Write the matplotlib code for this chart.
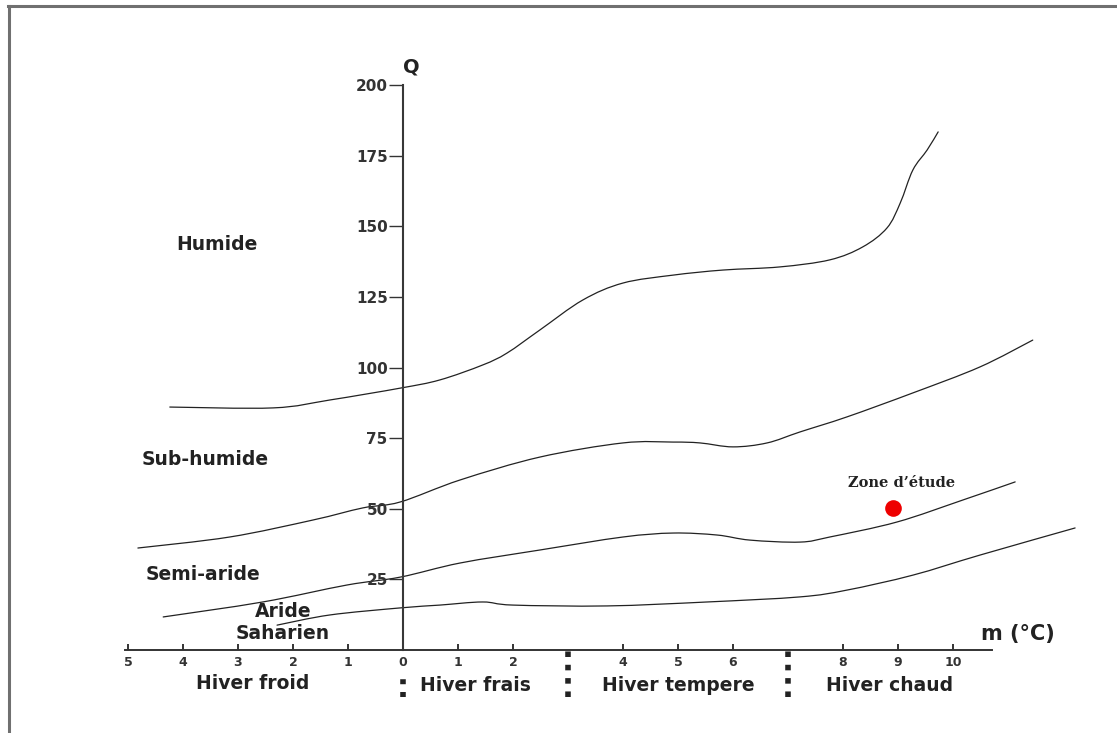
import matplotlib
matplotlib.use("Agg")
import matplotlib.pyplot as plt
from matplotlib.lines import Line2D
from matplotlib.path import Path
from matplotlib.patches import PathPatch

# ---- data (m in °C, Q) ----
c1_m = [-4.24, -2.36, -1.33, -0.05, 0.67, 1.45, 1.89, 2.49, 3.27, 4.0, 4.91, 5.82,
        6.85, 7.76, 8.36, 8.8, 9.04, 9.27, 9.53, 9.73]
c1_q = [86.0, 85.7, 88.5, 92.7, 95.6, 100.9, 105.1, 113.3, 123.9, 129.9, 132.7, 134.5,
        135.6, 138.1, 142.7, 149.4, 158.2, 169.9, 177.0, 183.4]

c2_m = [-4.82, -3.15, -1.64, -0.73, -0.05, 1.04, 2.49, 4.0, 4.91, 5.4, 6.0, 6.62,
        7.22, 8.07, 9.27, 10.49, 11.45]
c2_q = [36.1, 40.0, 46.0, 50.3, 52.4, 60.2, 68.3, 73.3, 73.6, 73.3, 71.9, 73.3,
        77.2, 82.5, 91.0, 100.2, 109.7]

c3_m = [-4.36, -2.55, -1.02, -0.05, 1.04, 2.49, 4.0, 4.91, 5.71, 6.31, 7.22, 7.76,
        8.98, 10.18, 11.13]
c3_q = [11.7, 17.0, 23.0, 25.8, 30.8, 35.4, 40.0, 41.4, 40.7, 38.9, 38.2, 40.0,
        45.3, 53.1, 59.5]

c4_m = [-2.29, -1.33, -0.05, 0.67, 1.45, 2.0, 3.71, 5.53, 7.22, 8.07, 9.27, 10.49, 12.22]
c4_q = [8.8, 12.4, 14.9, 15.9, 17.0, 15.9, 15.6, 17.0, 18.8, 21.2, 26.5, 33.6, 43.2]

study_m = [8.91]
study_q = [50.3]

y_ticks = [25, 50, 75, 100, 125, 150, 175, 200]
y_labels = ["25", "50", "75", "100", "125", "150", "175", "200"]
x_ticks = [-5, -4, -3, -2, -1, 0, 1, 2, 4, 5, 6, 8, 9, 10]
x_labels = ["5", "4", "3", "2", "1", "0", "1", "2", "4", "5", "6", "8", "9", "10"]
separators = [3, 7]

zones = ["Humide", "Sub-humide", "Semi-aride", "Aride", "Saharien"]
winters = ["Hiver froid", "Hiver frais", "Hiver tempere", "Hiver chaud"]

# ---- figure ----
W, H = 1117, 733
fig = plt.figure(figsize=(W / 100, H / 100), dpi=100)
ax = fig.add_axes([0, 0, 1, 1])
ppx = 55.0      # pixels per °C
ppy = 2.825     # pixels per unit Q
x0, y0 = 403, 650
ax.set_xlim((0 - x0) / ppx, (W - x0) / ppx)
ax.set_ylim((y0 - H) / ppy, y0 / ppy)
ax.patch.set_alpha(0)

for s in ["top", "right"]:
    ax.spines[s].set_visible(False)
ax.spines["left"].set_position(("data", 0))
ax.spines["bottom"].set_position(("data", 0))
ax.spines["left"].set_bounds(0, 200)
ax.spines["bottom"].set_bounds(-5.05, 10.7)
ax.spines["left"].set_linewidth(1.5)
ax.spines["left"].set_color("#383838")
ax.spines["bottom"].set_linewidth(1.4)
ax.spines["bottom"].set_color("#333333")

ax.set_yticks(y_ticks)
ax.set_yticklabels(y_labels)
ax.set_xticks(x_ticks)
ax.set_xticklabels(x_labels)
ax.tick_params(axis="y", direction="out", length=10, width=1.0, pad=1,
               labelsize=11, colors="#333333")
ax.tick_params(axis="x", direction="in", length=4, width=1.4, pad=4,
               labelsize=9, colors="#333333")
for lab in ax.get_xticklabels() + ax.get_yticklabels():
    lab.set_fontweight("bold")


def smooth_path(xs, ys):
    """Catmull-Rom curve through the points, drawn as cubic Bezier segments."""
    pts = list(zip(xs, ys))
    n = len(pts)
    verts = [pts[0]]
    codes = [Path.MOVETO]
    for i in range(n - 1):
        p0 = pts[i - 1] if i > 0 else pts[i]
        p1 = pts[i]
        p2 = pts[i + 1]
        p3 = pts[i + 2] if i + 2 < n else pts[i + 1]
        c1 = (p1[0] + (p2[0] - p0[0]) / 6, p1[1] + (p2[1] - p0[1]) / 6)
        c2 = (p2[0] - (p3[0] - p1[0]) / 6, p2[1] - (p3[1] - p1[1]) / 6)
        verts += [c1, c2, p2]
        codes += [Path.CURVE4] * 3
    return Path(verts, codes)


# ---- curves ----
lc = "#222222"
for m, q in [(c1_m, c1_q), (c2_m, c2_q), (c3_m, c3_q), (c4_m, c4_q)]:
    ax.add_patch(PathPatch(smooth_path(m, q), facecolor="none", edgecolor=lc,
                           lw=0.9, capstyle="round"))

ax.plot(study_m, study_q, "o", color="#ee0000", markersize=12, markeredgewidth=0)
ax.text(study_m[0] + 0.16, study_q[0] + 8.8, "Zone d\u2019étude", family="DejaVu Serif",
        fontweight="bold", fontsize=10.5, ha="center", va="center", color="#222222")

# ---- dotted separators ----
for xs in separators:
    ax.vlines(xs, -16.5, 1.5, colors="#222222", lw=4, linestyles=(0, (1.0, 1.4)))
ax.vlines(0, -16.5, -9.5, colors="#222222", lw=4, linestyles=(0, (0.9, 1.4)))

# ---- text labels ----
tc = "#222222"
kw = dict(fontweight="bold", color=tc, ha="center", va="center")
fs = 13.5
ax.text(-3.38, 143.7, zones[0], fontsize=fs, **kw)
ax.text(-3.60, 67.6, zones[1], fontsize=fs, **kw)
ax.text(-3.64, 26.9, zones[2], fontsize=fs, **kw)
ax.text(-2.18, 13.8, zones[3], fontsize=fs, **kw)
ax.text(-2.18, 6.0, zones[4], fontsize=fs, **kw)

ax.text(-2.73, -12.0, winters[0], fontsize=fs, **kw)
ax.text(1.31, -12.6, winters[1], fontsize=fs, **kw)
ax.text(5.0, -12.6, winters[2], fontsize=fs, **kw)
ax.text(8.85, -12.6, winters[3], fontsize=fs, **kw)

ax.text(11.18, 5.8, "m (°C)", fontsize=15, **kw)
ax.text(0.15, 206.5, "Q", fontsize=14, **kw)

# ---- outer frame (top and left) ----
fig.add_artist(Line2D([8 / W, 1], [1 - 6 / H, 1 - 6 / H], color="#707070", lw=2.2))
fig.add_artist(Line2D([9 / W, 9 / W], [0, 1 - 6 / H], color="#707070", lw=2.2))

fig.savefig("out.png", dpi=100)
